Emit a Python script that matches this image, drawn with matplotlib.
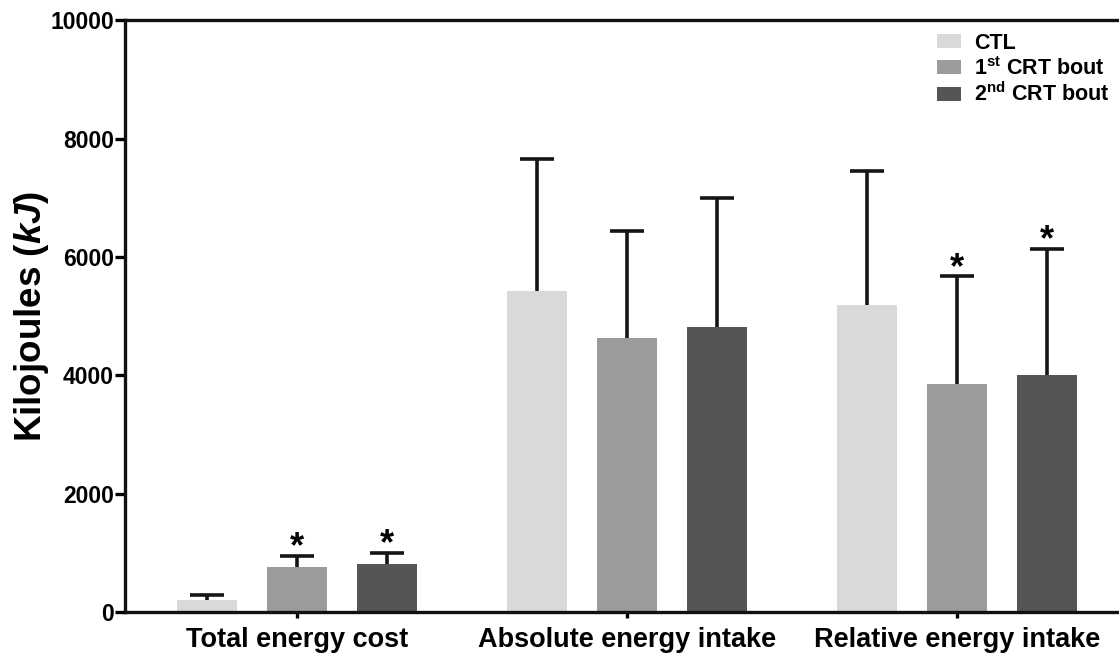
import numpy as np
import matplotlib
matplotlib.use("Agg")
import matplotlib.pyplot as plt

plt.rcParams['font.family'] = ['Liberation Sans', 'DejaVu Sans']
plt.rcParams['mathtext.fontset'] = 'custom'
plt.rcParams['mathtext.rm'] = 'Liberation Sans:bold'
plt.rcParams['mathtext.bf'] = 'Liberation Sans:bold'
plt.rcParams['mathtext.it'] = 'Liberation Sans:bold:italic'

categories = ["Total energy cost", "Absolute energy intake", "Relative energy intake"]
series_names = ["CTL", r"1$^{\mathrm{st}}$ CRT bout", r"2$^{\mathrm{nd}}$ CRT bout"]
ctl = [200, 5430, 5190]
ctl_sd = [90, 2220, 2270]
crt1 = [760, 4630, 3850]
crt1_sd = [190, 1810, 1820]
crt2 = [810, 4820, 4010]
crt2_sd = [190, 2170, 2130]
# significance markers per series (True = asterisk)
ctl_sig = [False, False, False]
crt1_sig = [True, False, True]
crt2_sig = [True, False, True]

colors = ["#d9d9d9", "#9a9b9a", "#555555"]

fig = plt.figure(figsize=(11.19, 6.53), dpi=100)
ax = fig.add_axes([0.1117, 0.063, 0.8883, 0.906])

x = np.arange(len(categories))
offset = 0.2727
width = 0.18
data = [(ctl, ctl_sd, ctl_sig), (crt1, crt1_sd, crt1_sig), (crt2, crt2_sd, crt2_sig)]
for i, (vals, sds, sig) in enumerate(data):
    pos = x + (i - 1) * offset
    ax.bar(pos, vals, width, color=colors[i], label=series_names[i], zorder=2)
    eb = ax.errorbar(pos, vals, yerr=[np.zeros(len(sds)), sds], fmt='none', ecolor='#151515',
                     elinewidth=2.6, capsize=12, capthick=2.6, zorder=3)
    eb[1][0].set_visible(False)  # hide the lower cap
    for p, v, s, flag in zip(pos, vals, sds, sig):
        if flag:
            ax.annotate("*", (p, v + s), xytext=(0, -7), textcoords='offset points',
                        ha='center', va='bottom', fontsize=26, fontweight='bold')

ax.set_xlim(-0.521, 2.491)
ax.set_ylim(0, 10000)
ax.set_yticks([0, 2000, 4000, 6000, 8000, 10000])
ax.set_xticks(x)
ax.set_xticklabels(categories, fontsize=19.5, fontweight='bold')
for lab in ax.get_yticklabels():
    lab.set_fontweight('bold')
    lab.set_fontsize(16.5)
ax.set_ylabel(r"Kilojoules $(\mathit{kJ})$", fontsize=26.5, fontweight='bold')
ax.yaxis.set_label_coords(-0.074, 0.5)

for s in ['left', 'bottom', 'top']:
    ax.spines[s].set_linewidth(2.4)
    ax.spines[s].set_color('#111111')
ax.spines['right'].set_visible(False)
ax.tick_params(axis='y', length=7, width=2.4, pad=1)
ax.tick_params(axis='x', length=4, width=2.4, pad=7)

leg = ax.legend(loc='upper right', bbox_to_anchor=(1.01, 1.012), frameon=False,
                prop={'weight': 'bold', 'size': 15.5}, handlelength=1.1, handleheight=0.6,
                handletextpad=0.6, labelspacing=0.15)

fig.savefig("out.png", dpi=100)
